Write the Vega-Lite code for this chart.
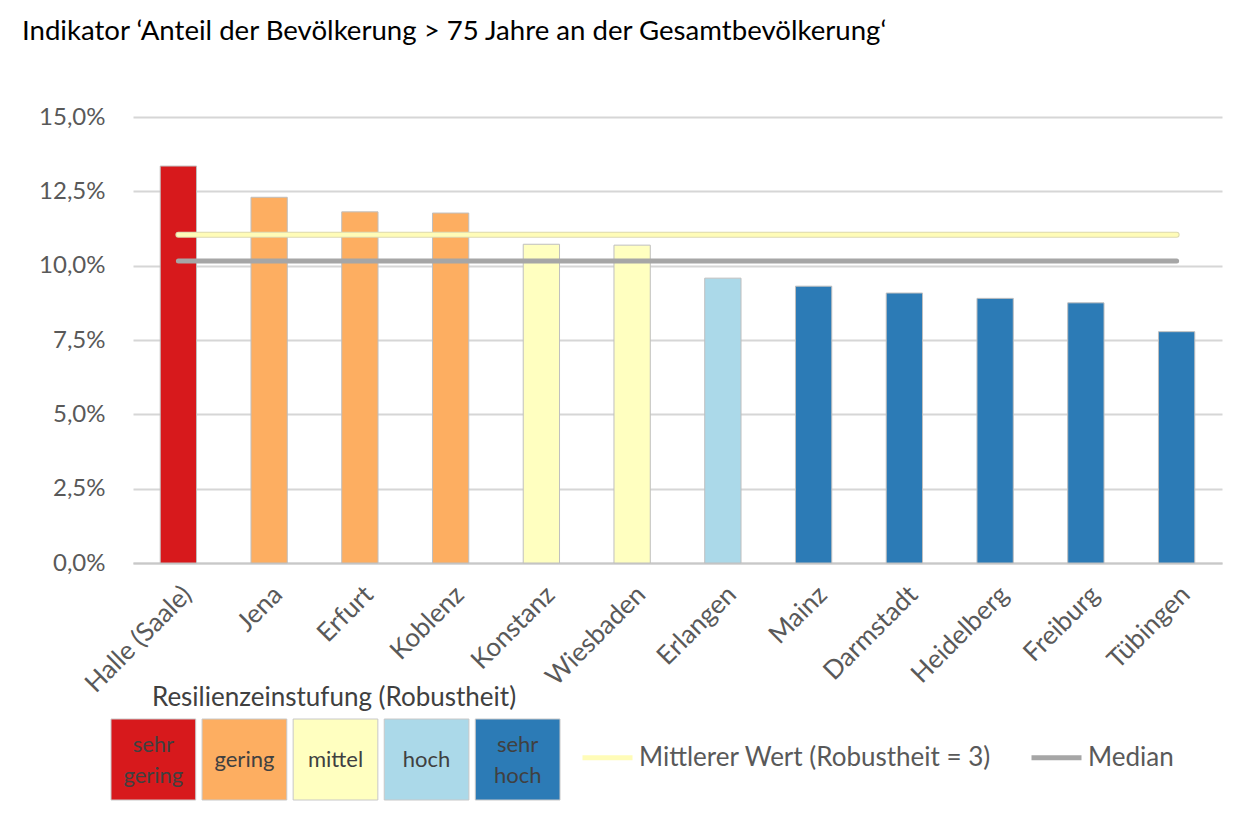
{
  "$schema": "https://vega.github.io/schema/vega-lite/v6.json",
  "autosize": {"type": "none"},
  "padding": {"left": 133, "top": 117, "right": 1112, "bottom": 701},
  "background": "white",
  "datasets": {
    "staedte": [
      {"stadt": "Halle (Saale)", "wert": 13.35, "stufe": "sehr gering", "mittel": 11.04, "median": 10.16},
      {"stadt": "Jena", "wert": 12.30, "stufe": "gering", "mittel": 11.04, "median": 10.16},
      {"stadt": "Erfurt", "wert": 11.81, "stufe": "gering", "mittel": 11.04, "median": 10.16},
      {"stadt": "Koblenz", "wert": 11.77, "stufe": "gering", "mittel": 11.04, "median": 10.16},
      {"stadt": "Konstanz", "wert": 10.72, "stufe": "mittel", "mittel": 11.04, "median": 10.16},
      {"stadt": "Wiesbaden", "wert": 10.69, "stufe": "mittel", "mittel": 11.04, "median": 10.16},
      {"stadt": "Erlangen", "wert": 9.58, "stufe": "hoch", "mittel": 11.04, "median": 10.16},
      {"stadt": "Mainz", "wert": 9.31, "stufe": "sehr hoch", "mittel": 11.04, "median": 10.16},
      {"stadt": "Darmstadt", "wert": 9.08, "stufe": "sehr hoch", "mittel": 11.04, "median": 10.16},
      {"stadt": "Heidelberg", "wert": 8.90, "stufe": "sehr hoch", "mittel": 11.04, "median": 10.16},
      {"stadt": "Freiburg", "wert": 8.75, "stufe": "sehr hoch", "mittel": 11.04, "median": 10.16},
      {"stadt": "Tübingen", "wert": 7.78, "stufe": "sehr hoch", "mittel": 11.04, "median": 10.16}
    ],
    "stufen": [
      {"stufe": "sehr gering", "label": ["sehr", "gering"]},
      {"stufe": "gering", "label": ["gering"]},
      {"stufe": "mittel", "label": ["mittel"]},
      {"stufe": "hoch", "label": ["hoch"]},
      {"stufe": "sehr hoch", "label": ["sehr", "hoch"]}
    ]
  },
  "title": {
    "text": "Indikator ‘Anteil der Bevölkerung > 75 Jahre an der Gesamtbevölkerung‘",
    "anchor": "start",
    "frame": "group",
    "dx": -111,
    "offset": 37,
    "baseline": "alphabetic",
    "font": "Lato",
    "fontSize": 27.6,
    "fontWeight": "normal",
    "color": "#000000"
  },
  "bounds": "flush",
  "spacing": 156,
  "vconcat": [
    {
      "width": 1089,
      "height": 446,
      "data": {"name": "staedte"},
      "layer": [
        {
          "mark": {"type": "bar", "stroke": "#BFBFBF", "strokeWidth": 1},
          "encoding": {
            "x": {
              "field": "stadt", "type": "nominal", "sort": null,
              "scale": {"paddingInner": 0.6, "paddingOuter": 0.3},
              "axis": {
                "title": null, "labelAngle": -45, "labelFont": "Lato", "labelFontSize": 26,
                "labelColor": "#595959", "ticks": false, "domain": true, "domainColor": "#C8C8C8",
                "domainWidth": 2, "labelPadding": 18, "labelLimit": 0
              }
            },
            "y": {
              "field": "wert", "type": "quantitative",
              "scale": {"domain": [0, 15], "nice": false},
              "axis": {
                "title": null, "values": [0, 2.5, 5, 7.5, 10, 12.5, 15],
                "labelExpr": "replace(format(datum.value, '.1f'), '.', ',') + '%'",
                "labelFont": "Lato", "labelFontSize": 24, "labelColor": "#595959",
                "labelPadding": 28, "ticks": false, "domain": false,
                "grid": true, "gridColor": "#D6D6D6", "gridWidth": 2
              }
            },
            "fill": {
              "field": "stufe", "type": "nominal",
              "scale": {
                "domain": ["sehr gering", "gering", "mittel", "hoch", "sehr hoch"],
                "range": ["#D7191C", "#FDAE61", "#FFFFC0", "#ABD9E9", "#2C7BB6"]
              },
              "legend": null
            }
          }
        },
        {
          "mark": {"type": "line", "strokeWidth": 6, "strokeCap": "round", "color": "#DCD9B0"},
          "encoding": {
            "x": {"field": "stadt", "type": "nominal", "sort": null},
            "y": {"field": "mittel", "type": "quantitative"}
          }
        },
        {
          "mark": {"type": "line", "strokeWidth": 4, "strokeCap": "round"},
          "encoding": {
            "x": {"field": "stadt", "type": "nominal", "sort": null},
            "y": {"field": "mittel", "type": "quantitative"},
            "stroke": {
              "datum": "mittel", "type": "nominal",
              "scale": {"domain": ["mittel", "median"], "range": ["#FFFCB8", "#A6A6A6"]},
              "legend": {
                "title": null, "orient": "none", "legendX": 447, "legendY": 613,
                "direction": "horizontal", "symbolType": "stroke", "symbolSize": 2500,
                "symbolStrokeWidth": 5, "labelFont": "Lato", "labelFontSize": 26,
                "labelColor": "#595959", "columnPadding": 29, "labelOffset": 4, "labelLimit": 0,
                "labelExpr": "datum.value == 'mittel' ? 'Mittlerer Wert (Robustheit = 3)' : 'Median'"
              }
            }
          }
        },
        {
          "mark": {"type": "line", "strokeWidth": 5, "strokeCap": "round"},
          "encoding": {
            "x": {"field": "stadt", "type": "nominal", "sort": null},
            "y": {"field": "median", "type": "quantitative"},
            "stroke": {"datum": "median", "type": "nominal"}
          }
        }
      ]
    },
    {
      "width": 402,
      "height": 81,
      "data": {"name": "stufen"},
      "title": {
        "text": "Resilienzeinstufung (Robustheit)", "font": "Lato", "fontSize": 26,
        "fontWeight": "normal", "color": "#404040", "anchor": "middle", "offset": 8
      },
      "layer": [
        {
          "mark": {"type": "bar", "stroke": "#C8C8C8", "strokeWidth": 1},
          "encoding": {
            "x": {
              "field": "stufe", "type": "nominal", "sort": null, "axis": null,
              "scale": {"range": [-22, 427], "paddingInner": 0.07, "paddingOuter": 0}
            },
            "fill": {"field": "stufe", "type": "nominal", "legend": null}
          }
        },
        {
          "transform": [{"filter": "length(datum.label) == 1"}],
          "mark": {
            "type": "text", "font": "Lato", "fontSize": 22, "color": "#404040",
            "lineHeight": 31, "baseline": "middle"
          },
          "encoding": {
            "x": {"field": "stufe", "type": "nominal", "sort": null},
            "text": {"field": "label"}
          }
        },
        {
          "transform": [{"filter": "length(datum.label) == 2"}],
          "mark": {
            "type": "text", "font": "Lato", "fontSize": 22, "color": "#404040",
            "lineHeight": 31, "baseline": "middle", "dy": -15
          },
          "encoding": {
            "x": {"field": "stufe", "type": "nominal", "sort": null},
            "text": {"field": "label"}
          }
        }
      ]
    }
  ],
  "config": {
    "view": {"stroke": null},
    "font": "Lato"
  }
}
